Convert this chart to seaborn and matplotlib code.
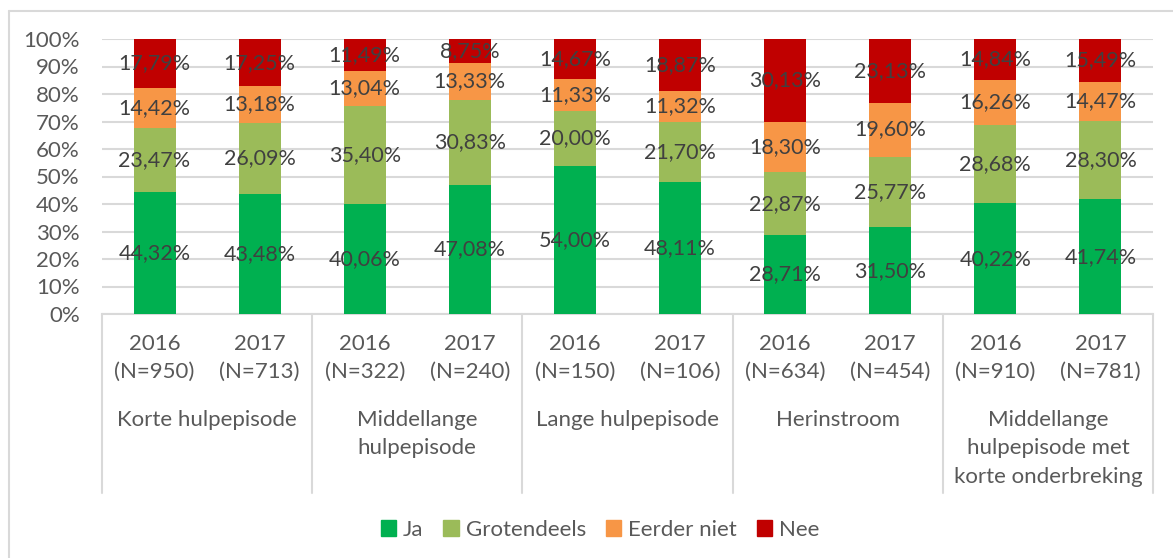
import numpy as np
import pandas as pd
import matplotlib
matplotlib.use("Agg")
import matplotlib.pyplot as plt
import matplotlib.transforms as mtransforms
from matplotlib.lines import Line2D
import seaborn as sns

# Survey answers per episode type and year (percentages)
groups = ["Korte hulpepisode", "Middellange\nhulpepisode", "Lange hulpepisode",
          "Herinstroom", "Middellange\nhulpepisode met\nkorte onderbreking"]
years = ["2016", "2017"] * 5
counts = [950, 713, 322, 240, 150, 106, 634, 454, 910, 781]

ja          = [44.32, 43.48, 40.06, 47.08, 54.00, 48.11, 28.71, 31.50, 40.22, 41.74]
grotendeels = [23.47, 26.09, 35.40, 30.83, 20.00, 21.70, 22.87, 25.77, 28.68, 28.30]
eerder_niet = [14.42, 13.18, 13.04, 13.33, 11.33, 11.32, 18.30, 19.60, 16.26, 14.47]
nee         = [17.79, 17.25, 11.49, 8.75, 14.67, 18.87, 30.13, 23.13, 14.84, 15.49]

series_names = ["Ja", "Grotendeels", "Eerder niet", "Nee"]
series_vals = [ja, grotendeels, eerder_niet, nee]
colors = ["#00B050", "#9BBB59", "#F79646", "#C00000"]

sns.set_theme(style="white")
plt.rcParams["font.family"] = ["Lato", "DejaVu Sans"]

bar_ids = [f"b{i}" for i in range(len(years))]
vals = np.array(series_vals)
cum = np.cumsum(vals, axis=0)

W, H = 1173, 558
fig = plt.figure(figsize=(W / 100, H / 100), dpi=100)
ax = fig.add_axes([102 / W, 1 - 314 / H, 1051 / W, 275 / H])

# Stacked bars: draw cumulative totals from the top series downwards
for k in range(len(series_names) - 1, -1, -1):
    df = pd.DataFrame({"bar": bar_ids, "value": cum[k]})
    sns.barplot(data=df, x="bar", y="value", order=bar_ids, color=colors[k],
                saturation=1, width=0.4, ax=ax, errorbar=None,
                edgecolor="none", linewidth=0, zorder=3)

# Value labels centred in each segment
label_col = "#404040"
for k in range(len(series_names)):
    for i in range(len(bar_ids)):
        v = vals[k, i]
        yc = cum[k, i] - v / 2
        ax.text(i, yc, f"{v:.2f}%".replace(".", ","), ha="center", va="center",
                fontsize=15.5, color=label_col, zorder=5)

ax.set_xlim(-0.5, len(bar_ids) - 0.5)
ax.set_ylim(0, 100)
ax.set_yticks(np.arange(0, 101, 10))
ax.set_yticklabels([f"{t}%" for t in range(0, 101, 10)], fontsize=16, color="#595959")
ax.tick_params(axis="y", length=0, pad=16)
ax.set_xticks([])
ax.set_xlabel("")
ax.set_ylabel("")
for s in ["top", "right", "left"]:
    ax.spines[s].set_visible(False)
ax.spines["bottom"].set_color("#D9D9D9")
ax.spines["bottom"].set_linewidth(1.5)
ax.yaxis.grid(True, color="#D9D9D9", linewidth=1.5, zorder=0)
ax.set_axisbelow(True)

# Category axis: year / N labels, group labels and separators
trans = mtransforms.blended_transform_factory(ax.transData, ax.transAxes)
ax_h = 275.0
def ay(px):
    return (314 - px) / ax_h

tick_col = "#595959"
for i, (yr, n) in enumerate(zip(years, counts)):
    ax.text(i, ay(344), yr, transform=trans, ha="center", va="center",
            fontsize=16, color=tick_col)
    ax.text(i, ay(372), f"(N={n})", transform=trans, ha="center", va="center",
            fontsize=16, color=tick_col)
for g, name in enumerate(groups):
    ax.text(2 * g + 0.5, ay(410), name, transform=trans, ha="center", va="top",
            fontsize=16, color=tick_col, linespacing=1.52)
for xs in np.arange(-0.5, len(bar_ids), 2):
    ax.plot([xs, xs], [0, ay(493)], transform=trans, color="#D9D9D9",
            linewidth=1.5, clip_on=False, zorder=1)

# Outer chart frame
fx = 8.5 / W
fy = 1 - 10.5 / H
fig.add_artist(Line2D([fx, fx], [0, fy], transform=fig.transFigure,
                      color="#D9D9D9", linewidth=1.5))
fig.add_artist(Line2D([fx, 1], [fy, fy], transform=fig.transFigure,
                      color="#D9D9D9", linewidth=1.5))

# Legend
handles = [plt.Rectangle((0, 0), 1, 1, color=c) for c in colors]
leg = fig.legend(handles, series_names, loc="center", ncol=4, frameon=False,
                 bbox_to_anchor=(600 / W, 1 - 530 / H), fontsize=16,
                 handlelength=0.7, handleheight=0.7, handletextpad=0.3,
                 columnspacing=0.9)
for t in leg.get_texts():
    t.set_color(tick_col)

fig.savefig("out.png", dpi=100)
